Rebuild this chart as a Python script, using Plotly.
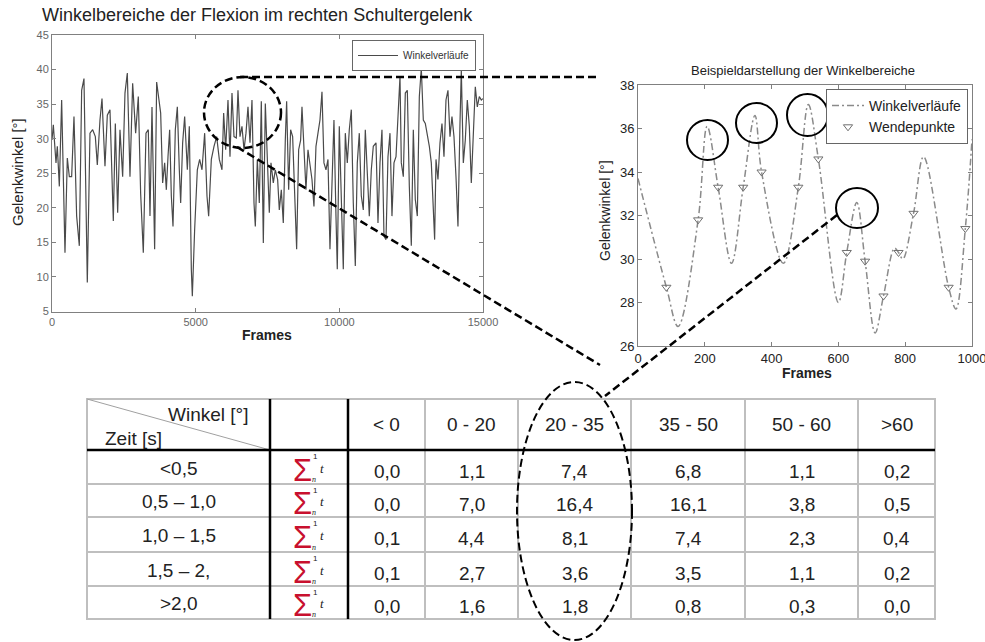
import plotly.graph_objects as go

# ---------------- data: left chart (frames / angle) -------------
left_frames = [
    0, 46, 139, 185, 255, 336, 452, 533, 603, 684,
    765, 858, 951, 1032, 1113, 1229, 1322, 1415, 1508, 1577,
    1670, 1740, 1844, 1925, 2018, 2134, 2204, 2285, 2366, 2459,
    2540, 2621, 2714, 2807, 2911, 3004, 3085, 3178, 3271, 3352,
    3410, 3480, 3572, 3642,
    3782, 3851, 3921, 3979, 4037, 4095, 4153, 4211, 4292, 4362,
    4431, 4478, 4547, 4617, 4710, 4779, 4849, 4884, 4965, 5058,
    5139, 5220, 5313, 5394, 5452, 5545, 5638, 5731, 5823, 5916,
    5974, 6044, 6125, 6195, 6264, 6334, 6415, 6473, 6543, 6612,
    6682, 6751, 6821, 6891, 6960, 7030, 7076, 7146, 7215, 7285,
    7355, 7424,
    7563, 7621, 7702, 7772, 7853, 7911, 7981, 8050, 8120, 8166,
    8236, 8305, 8375, 8445, 8514, 8584, 8653, 8700, 8770, 8839,
    8909, 8978, 9048, 9117, 9187, 9257, 9326, 9396, 9465, 9535,
    9605, 9674, 9744, 9813, 9883, 9929, 9999, 10069, 10138, 10208,
    10277, 10347, 10417, 10486, 10556, 10625, 10695, 10765, 10834, 10904,
    10973, 11043, 11113, 11182,
    11276, 11345, 11415, 11484, 11554, 11624, 11693, 11763, 11832, 11902,
    11972, 12041, 12111, 12157, 12227, 12296, 12366, 12436, 12505, 12575,
    12644, 12714, 12784, 12853, 12923, 12992, 13062, 13132, 13201, 13271,
    13317, 13364, 13433, 13503, 13572, 13642, 13712, 13781, 13851, 13920,
    13990, 14060, 14129, 14199, 14245, 14315, 14384, 14454, 14524, 14593,
    14663, 14732, 14802, 14872, 14941, 15000,
]
left_angles = [
    29.8, 32.0, 26.5, 28.9, 23.1, 35.6, 13.5, 27.2, 24.5, 24.5,
    33.2, 18.8, 14.5, 37.0, 38.7, 9.2, 30.8, 31.3, 30.3, 26.2,
    32.7, 35.8, 26.0, 33.4, 34.2, 18.1, 32.2, 19.3, 31.3, 24.5,
    36.6, 39.5, 24.5, 38.0, 30.8, 36.1, 22.1, 13.5, 30.8, 31.3,
    18.8, 34.6, 14.0, 38.2,
    33.7, 23.6, 26.5, 22.6, 27.4, 31.3, 21.7, 17.3, 31.3, 34.6,
    25.5, 20.7, 29.4, 33.2, 25.5, 31.8, 11.1, 7.2, 16.9, 25.5,
    27.0, 25.5, 30.8, 21.7, 18.8, 27.0, 28.9, 30.3, 27.0, 25.5,
    33.7, 28.4, 35.6, 27.4, 36.6, 30.3, 30.1, 37.0, 30.3, 31.8,
    28.4, 30.8, 34.6, 29.4, 35.6, 20.7, 17.3, 27.0, 20.7, 35.4,
    14.9, 35.1,
    19.3, 26.5, 23.6, 25.5, 24.1, 19.7, 22.6, 17.8, 29.8, 35.4,
    22.6, 31.3, 30.3, 21.7, 14.0, 28.4, 29.8, 34.6, 28.9, 22.6,
    28.4, 26.5, 24.1, 20.2, 28.9, 30.8, 32.7, 36.8, 26.5, 25.5,
    27.0, 14.0, 23.1, 32.7, 18.8, 11.1, 31.8, 21.7, 11.1, 30.8,
    26.5, 31.3, 34.2, 20.7, 11.6, 26.5, 30.8, 21.7, 19.7, 31.3,
    25.5, 18.8, 25.5, 28.9,
    29.4, 17.8, 26.5, 31.3, 15.9, 15.4, 27.4, 30.8, 18.8, 26.5,
    27.4, 32.7, 39.0, 26.5, 24.5, 36.6, 37.0, 23.1, 14.5, 31.3,
    21.2, 18.8, 36.1, 40.2, 32.7, 32.2, 30.8, 28.9, 26.5, 20.7,
    15.4, 27.0, 24.1, 29.4, 32.2, 27.4, 35.6, 37.0, 30.3, 33.2,
    30.3, 24.5, 17.3, 32.2, 39.9, 26.5, 29.8, 35.6, 31.8, 23.6,
    29.8, 37.5, 34.6, 36.1, 35.6, 35.8,
]

# ---------------- data: right chart -------------
right_frames = [0, 85, 120, 180, 207, 240, 280, 315, 350, 370, 435, 480, 510,
                540, 600, 625, 655, 680, 710, 735, 768, 780, 793, 825, 855,
                930, 952, 980, 1000]
right_angles = [33.7, 28.7, 26.9, 31.8, 36.1, 33.3, 29.8, 33.3, 36.6, 34.0,
                29.8, 33.3, 37.1, 34.6, 28.0, 30.3, 32.6, 29.9, 26.6, 28.3,
                30.5, 30.3, 30.0, 32.1, 34.7, 28.7, 27.7, 31.4, 35.5]
wp_frames = [85, 180, 240, 315, 370, 480, 540, 625, 680, 735, 780, 825, 930, 980]
wp_angles = [28.7, 31.8, 33.3, 33.3, 34.0, 33.3, 34.6, 30.3, 29.9, 28.3,
             30.3, 32.1, 28.7, 31.4]

# ---------------- data: table -------------
angle_ranges = ["&lt; 0", "0 - 20", "20 - 35", "35 - 50", "50 - 60", "&gt;60"]
time_ranges = ["&lt;0,5", "0,5 – 1,0", "1,0 – 1,5", "1,5 – 2,", "&gt;2,0"]
col_lt0 = [0.0, 0.0, 0.1, 0.1, 0.0]
col_0_20 = [1.1, 7.0, 4.4, 2.7, 1.6]
col_20_35 = [7.4, 16.4, 8.1, 3.6, 1.8]
col_35_50 = [6.8, 16.1, 7.4, 3.5, 0.8]
col_50_60 = [1.1, 3.8, 2.3, 1.1, 0.3]
col_gt60 = [0.2, 0.5, 0.4, 0.2, 0.0]
table_cols = [col_lt0, col_0_20, col_20_35, col_35_50, col_50_60, col_gt60]

# ---------------- layout helpers (pixels -> paper) -------------
W, H = 985, 642
def P(x):
    return x / W
def Q(y):
    return 1 - y / H

FONT = "Liberation Sans, Arial, sans-serif"

fig = go.Figure()
fig.add_trace(go.Scatter(
    x=left_frames, y=left_angles, mode="lines", name="Winkelverläufe",
    line=dict(color="#4a4a4a", width=1.2), xaxis="x", yaxis="y", legend="legend",
    showlegend=True))
fig.add_trace(go.Scatter(
    x=right_frames, y=right_angles, mode="lines", name="Winkelverläufe",
    line=dict(color="#8a8a8a", width=1.5, dash="7px,3px,2px,3px",
              shape="spline", smoothing=1.0),
    xaxis="x2", yaxis="y2", legend="legend2", showlegend=True))
fig.add_trace(go.Scatter(
    x=wp_frames, y=wp_angles, mode="markers", name="Wendepunkte",
    marker=dict(symbol="triangle-down-open", size=8, color="#707070",
                line=dict(width=1, color="#707070")),
    xaxis="x2", yaxis="y2", legend="legend2", showlegend=True))

axis_common = dict(showline=True, mirror="ticks", linecolor="#808080", linewidth=1,
                   ticks="inside", ticklen=4, tickcolor="#808080", showgrid=False,
                   zeroline=False, automargin=False, ticklabeloverflow="allow")

fig.update_layout(
    width=W, height=H, margin=dict(l=0, r=0, t=0, b=0), autosize=False,
    paper_bgcolor="white", plot_bgcolor="white", showlegend=True,
    font=dict(family=FONT, color="#222"),
    xaxis=dict(domain=[P(52), P(483)], range=[0, 15000],
               tickvals=[0, 5000, 10000, 15000], tickformat="d", anchor="y",
               tickfont=dict(size=11, color="#666"), **axis_common),
    yaxis=dict(domain=[Q(311.5), Q(35)], range=[5, 45], dtick=5, anchor="x",
               tickfont=dict(size=11, color="#666"), **axis_common),
    xaxis2=dict(domain=[P(638), P(972)], range=[0, 1000], dtick=200, anchor="y2",
                tickformat="d",
                tickfont=dict(size=13, color="#222"), **axis_common),
    yaxis2=dict(domain=[Q(346), Q(85)], range=[26, 38], dtick=2, anchor="x2",
                tickfont=dict(size=13, color="#222"), **axis_common),
    legend=dict(x=P(476), xanchor="right", y=Q(40), yanchor="top",
                bgcolor="white", bordercolor="#666", borderwidth=1,
                font=dict(size=10, color="#333"), itemwidth=40,
                tracegroupgap=0),
    legend2=dict(x=P(968), xanchor="right", y=Q(89), yanchor="top",
                 bgcolor="white", bordercolor="#666", borderwidth=1,
                 font=dict(size=14, color="#222"), itemwidth=32,
                 tracegroupgap=0),
)

ann = []
def text(x, y, s, size, color="#222", xanchor="center", angle=0, family=FONT):
    ann.append(dict(xref="paper", yref="paper", x=P(x), y=Q(y), text=s,
                    showarrow=False, xanchor=xanchor, yanchor="middle",
                    textangle=angle, font=dict(size=size, color=color, family=family)))

# titles and axis titles
text(40, 15, "Winkelbereiche der Flexion im rechten Schultergelenk", 18, "#222", "left")
text(267, 335, "<b>Frames</b>", 14)
text(17, 172, "Gelenkwinkel [°]", 15, angle=-90)
text(803, 70, "Beispieldarstellung der Winkelbereiche", 13)
text(807, 373, "<b>Frames</b>", 14)
text(605, 211, "Gelenkwinkel [°]", 14, angle=-90)

# ---------------- table -------------
table_left, table_top = 87, 399
col_widths = [183, 78, 77, 93, 113, 114, 113, 77]
row_heights = [51, 34, 33, 35, 34, 33]
col_edges = [table_left]
for w in col_widths:
    col_edges.append(col_edges[-1] + w)
row_edges = [table_top]
for h in row_heights:
    row_edges.append(row_edges[-1] + h)

shapes = []
GREY = "#bfbfbf"
def line(x0, y0, x1, y1, color, width, dash=None):
    d = dict(type="line", xref="paper", yref="paper", x0=P(x0), y0=Q(y0),
             x1=P(x1), y1=Q(y1), line=dict(color=color, width=width))
    if dash:
        d["line"]["dash"] = dash
    shapes.append(d)

L, R = col_edges[0], col_edges[-1]
T, B = row_edges[0], row_edges[-1]
# grey grid
for yy in row_edges[2:-1]:
    line(L, yy, R, yy, GREY, 2)
for xx in col_edges[3:-1]:
    line(xx, T, xx, B, GREY, 2)
shapes.append(dict(type="rect", xref="paper", yref="paper", x0=P(L), y0=Q(B),
                   x1=P(R), y1=Q(T), line=dict(color=GREY, width=2)))
line(L, T, col_edges[1], row_edges[1], "#a0a0a0", 1)
# black separators
line(L, row_edges[1], R, row_edges[1], "black", 2.5)
for xx in col_edges[1:3]:
    line(xx, T, xx, B, "black", 2.5)

TF = 19
text(208, 414, "Winkel [°]", TF)
text(133, 438, "Zeit [s]", TF)
for j, lab in enumerate(angle_ranges):
    cx = (col_edges[j + 2] + col_edges[j + 3]) / 2
    text(cx, (row_edges[0] + row_edges[1]) / 2, lab, TF)

RED = "#c8102e"
for i, lab in enumerate(time_ranges):
    top, bot = row_edges[i + 1], row_edges[i + 2]
    cy = (top + bot) / 2
    text((col_edges[0] + col_edges[1]) / 2, cy + 1, lab, TF)
    # summation symbol
    text(302, cy + 3, "Σ", 31, RED)
    text(315, top + 6, "1", 8, "#222")
    text(314, bot - 5, "<i>n</i>", 8, "#222", family="Liberation Serif")
    text(322, cy + 1, "<i>t</i>", 13, "#222", family="Liberation Serif")
    for j, col in enumerate(table_cols):
        cx = (col_edges[j + 2] + col_edges[j + 3]) / 2
        text(cx, cy + 4, f"{col[i]:.1f}".replace(".", ","), TF)

# ---------------- decorations (dashed zoom indicators, circles) -------------
DASH = "8px,4px"
def ellipse(x0, y0, x1, y1, width, dash=None):
    d = dict(type="circle", xref="paper", yref="paper", x0=P(x0), y0=Q(y1),
             x1=P(x1), y1=Q(y0), line=dict(color="black", width=width))
    if dash:
        d["line"]["dash"] = dash
    shapes.append(d)

ellipse(204, 77, 281, 148, 2.5, DASH)
line(240, 77, 600, 77, "black", 2.5, DASH)
line(237, 147, 600, 365, "black", 2.5, DASH)
line(837, 215, 605, 396, "black", 2.5, DASH)
ellipse(517, 382, 632, 640, 2, DASH)
for (x0, y0, x1, y1) in [(687, 120, 728, 160), (736, 103, 777, 143),
                         (787, 94, 828, 136), (836, 188, 878, 228)]:
    ellipse(x0, y0, x1, y1, 2)

fig.update_layout(annotations=ann, shapes=shapes)

fig.write_html("out.html", config={"displayModeBar": False},
               post_script="document.body.style.margin='0';")
